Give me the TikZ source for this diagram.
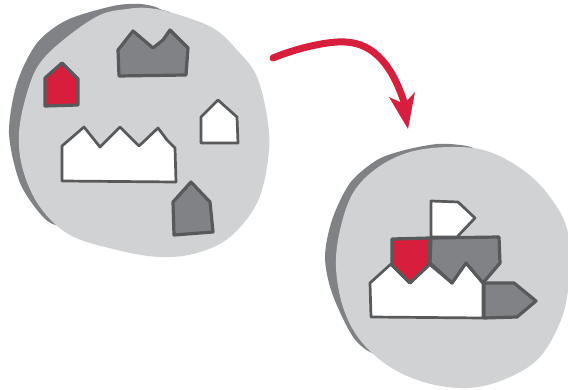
\documentclass[tikz,border=0pt]{standalone}
\usepackage{tikz}
\usetikzlibrary{calc}

\definecolor{discgray}{HTML}{D1D2D4}
\definecolor{rimgray}{HTML}{808285}
\definecolor{edgegray}{HTML}{58595B}
\definecolor{housered}{HTML}{D71E3C}

\begin{document}
\begin{tikzpicture}[
  x=1pt, y=-1pt,
  disc/.style  = {fill=discgray},
  rim/.style   = {fill=rimgray},
  house/.style = {draw=edgegray, line width=3.2pt, line join=round},
  redhouse/.style   = {house, fill=housered},
  grayhouse/.style  = {house, fill=rimgray},
  whitehouse/.style = {house, fill=white, line width=2.7pt},
]
  \useasboundingbox (0,0) rectangle (568,390);

  % left disc
  \fill[rim] plot[smooth cycle, tension=0.5] coordinates {
    (113,6) (140,4) (160,9) (172,24) (130,120) (84,222) (60,226) (43,217) (20,183)
    (9,133) (17,83) (37,43) (67,20)};
  \fill[disc] plot[smooth cycle, tension=0.6] coordinates {
    (147,8) (173,13) (213,28) (237,50) (257,77) (268,123) (268,160)
    (257,203) (230,237) (197,253) (160,257) (117,250) (70,235) (40,207)
    (23,170) (19,133) (27,93) (40,63) (67,37) (100,15) (127,9)};

  \draw[redhouse]   (62,63) -- (78,79) -- (78,105) -- (45,106) -- (45,78) -- cycle;
  \draw[grayhouse]  (133,31) -- (153,48) -- (163,40) -- (170,30) -- (188,48)
    -- (186,75) -- (119,76) -- (118,50) -- cycle;
  \draw[whitehouse] (218,100) -- (237,117) -- (238,143) -- (201,143) -- (201,117) -- cycle;
  \draw[whitehouse] (84,127) -- (100,147) -- (120,127) -- (139,146) -- (158,128)
    -- (167,140) -- (175,148) -- (176,182) -- (62,181) -- (62,146) -- cycle;
  \draw[grayhouse]  (191,182) -- (210,202) -- (213,232) -- (174,235) -- (173,202) -- cycle;

  % right disc
  \fill[rim] plot[smooth cycle, tension=0.5] coordinates {
    (437,144) (460,145) (475,149) (487,165) (450,260) (405,352) (375,354) (353,337) (332,293)
    (325,257) (332,220) (350,183) (377,160) (405,150)};
  \fill[disc] plot[smooth cycle, tension=0.6] coordinates {
    (487,151) (523,170) (550,197) (568,233) (568,290) (558,327) (537,360)
    (503,380) (467,388) (427,383) (390,367) (360,340) (343,307) (336,267)
    (340,230) (353,193) (377,168) (410,152) (450,147)};

  \draw[whitehouse] (431,201) -- (458,202) -- (475,218) -- (457,237) -- (431,237) -- cycle;
  \draw[whitehouse] (391,264) -- (410,283) -- (429,264) -- (452,283) -- (466,263)
    -- (483,283) -- (483,318) -- (371,317) -- (370,283) -- cycle;
  \draw[grayhouse]  (431,238) -- (499,237) -- (500,263) -- (483,283) -- (466,263)
    -- (452,283) -- (430,263) -- cycle;
  \draw[redhouse]   (392,239) -- (430,238) -- (429,265) -- (410,283) -- (392,265) -- cycle;
  \draw[grayhouse]  (484,283) -- (514,283) -- (536,301) -- (517,317) -- (484,318) -- cycle;

  % arrow between the discs
  \coordinate (astart) at (273,58);
  \coordinate (aend)   at (404,102);
  \draw[housered, line width=7pt, line cap=round]
    (astart) .. controls (300,47) and (330,41) .. (345,42)
    .. controls (375,43) and (393,68) .. (aend);
  \fill[housered] (408,129) -- (389,97) -- (404,104) -- (415,92) -- cycle;
\end{tikzpicture}
\end{document}
